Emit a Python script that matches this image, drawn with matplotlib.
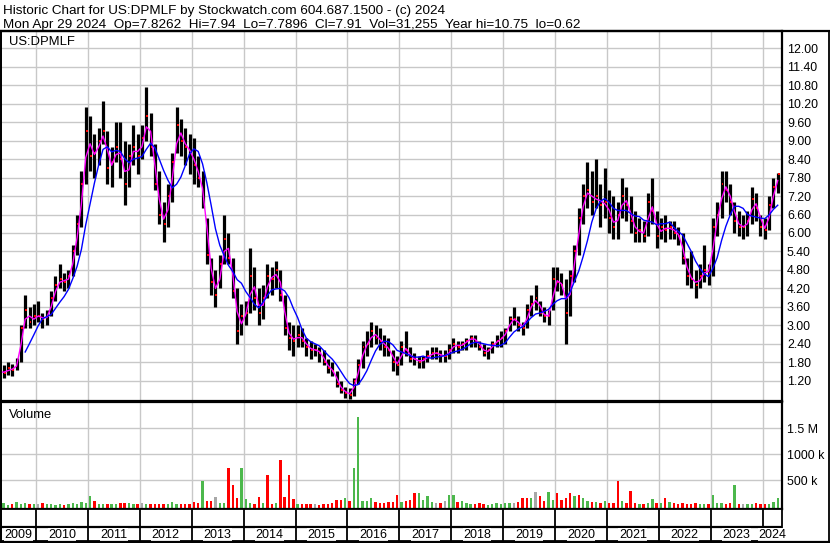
import numpy as np
import pandas as pd
import matplotlib
matplotlib.use("Agg")
import matplotlib.pyplot as plt
from matplotlib.lines import Line2D

plt.rcParams["font.family"] = ["Liberation Sans", "DejaVu Sans"]

W, H = 830, 543

# monthly bars, Apr 2009 .. Apr 2024
first_month = "2009-04"
last_month = "2024-04"

high = [
    1.75, 1.7, 1.8, 1.75, 1.95, 3.0, 4.0, 3.6, 3.7,                 # 2009 Apr-Dec
    3.8, 3.4, 3.5, 4.1, 4.6, 5.0, 4.7, 4.8, 5.6, 6.6, 8.0, 10.1,      # 2010
    9.8, 9.2, 9.4, 10.3, 9.3, 8.8, 9.6, 9.6, 9.0, 8.9, 9.5, 9.2,      # 2011
    9.5, 10.75, 9.9, 8.9, 8.0, 7.0, 7.6, 8.6, 10.1, 9.7, 9.4, 9.2,    # 2012
    9.1, 8.5, 8.0, 6.5, 5.2, 4.8, 5.3, 6.6, 6.0, 5.2, 4.2, 3.7,       # 2013
    3.8, 5.5, 4.9, 4.2, 4.3, 5.0, 4.9, 5.1, 4.8, 4.0, 3.1, 3.0,       # 2014
    3.0, 2.9, 2.6, 2.5, 2.4, 2.3, 2.2, 1.9, 1.8, 1.5, 1.2, 1.0,       # 2015
    0.95, 1.3, 1.9, 2.5, 2.8, 3.1, 3.0, 2.9, 2.7, 2.6, 2.2, 2.0,      # 2016
    2.5, 2.8, 2.3, 2.1, 2.0, 2.0, 2.2, 2.3, 2.3, 2.2, 2.2, 2.4,       # 2017
    2.6, 2.5, 2.5, 2.6, 2.7, 2.7, 2.5, 2.4, 2.3, 2.5, 2.7, 2.8,       # 2018
    2.9, 3.3, 3.6, 3.3, 3.1, 3.7, 4.0, 4.3, 3.8, 3.6, 3.5, 4.9,       # 2019
    4.9, 4.7, 4.5, 4.8, 5.6, 6.8, 7.6, 8.3, 8.0, 8.4, 7.6, 8.1,       # 2020
    7.4, 7.2, 7.0, 7.8, 7.5, 7.2, 6.7, 6.5, 6.4, 7.3, 7.8, 6.7,       # 2021
    6.5, 6.6, 6.4, 6.4, 6.2, 6.0, 5.2, 5.4, 4.8, 5.0, 5.6, 5.0,       # 2022
    6.5, 7.0, 8.0, 8.0, 7.6, 7.0, 6.7, 6.6, 6.7, 7.5, 7.3, 6.6,       # 2023
    6.5, 7.2, 7.8, 7.94,                                              # 2024
]
low = [
    1.35, 1.3, 1.4, 1.35, 1.55, 1.8, 2.9, 2.9, 3.0,
    3.1, 2.9, 3.0, 3.3, 3.8, 4.2, 4.1, 4.2, 4.6, 5.3, 6.2, 7.6,
    8.0, 7.8, 8.2, 8.9, 7.6, 7.5, 8.3, 7.8, 6.9, 7.5, 8.2, 7.9,
    8.4, 9.0, 8.5, 7.4, 6.3, 5.7, 6.2, 7.0, 8.6, 8.5, 8.2, 7.9,
    7.6, 7.5, 6.8, 5.0, 4.0, 3.6, 4.2, 5.0, 5.0, 3.9, 2.4, 2.7,
    3.0, 3.4, 3.5, 3.0, 3.2, 3.9, 4.0, 4.2, 3.8, 2.7, 2.2, 2.0,
    2.3, 2.3, 2.0, 1.9, 2.0, 1.8, 1.7, 1.45, 1.35, 1.0, 0.8, 0.65,
    0.62, 0.7, 1.1, 1.6, 2.0, 2.3, 2.4, 2.2, 2.0, 2.0, 1.5, 1.4,
    1.7, 2.0, 1.8, 1.7, 1.6, 1.6, 1.8, 1.9, 1.9, 1.8, 1.8, 1.9,
    2.1, 2.1, 2.2, 2.2, 2.3, 2.3, 2.2, 2.0, 1.9, 2.1, 2.3, 2.3,
    2.4, 2.8, 3.0, 2.8, 2.7, 2.9, 3.3, 3.5, 3.3, 3.1, 3.0, 3.5,
    4.1, 4.0, 2.4, 3.3, 4.4, 5.3, 6.3, 6.8, 6.6, 6.8, 6.2, 6.5,
    6.0, 5.8, 5.8, 6.5, 6.4, 6.0, 5.7, 5.7, 5.7, 5.9, 6.3, 5.5,
    5.8, 5.7, 5.8, 5.8, 5.6, 5.0, 4.3, 4.2, 3.9, 4.2, 4.4, 4.3,
    4.6, 5.9, 6.5, 7.0, 6.6, 6.0, 5.9, 5.8, 5.9, 6.3, 6.4, 5.9,
    5.8, 6.1, 6.8, 7.3,
]
close = [
    1.5, 1.45, 1.6, 1.55, 1.8, 2.9, 3.5, 3.1, 3.3,
    3.3, 3.2, 3.3, 3.9, 4.3, 4.5, 4.4, 4.6, 5.4, 6.3, 7.6, 9.3,
    8.5, 8.6, 9.0, 9.3, 8.1, 8.3, 8.8, 8.4, 7.6, 8.5, 8.8, 8.5,
    9.1, 9.8, 8.8, 7.6, 6.6, 6.3, 7.2, 8.3, 9.5, 9.0, 8.8, 8.6,
    8.2, 7.8, 7.1, 5.3, 4.4, 4.0, 5.0, 5.8, 5.2, 4.1, 2.8, 3.3,
    3.4, 4.6, 3.9, 3.4, 3.9, 4.6, 4.5, 4.8, 4.0, 2.9, 2.6, 2.5,
    2.7, 2.5, 2.3, 2.2, 2.2, 2.1, 1.8, 1.6, 1.5, 1.1, 0.9, 0.8,
    0.75, 1.2, 1.7, 2.3, 2.4, 2.8, 2.6, 2.5, 2.3, 2.2, 1.8, 1.7,
    2.3, 2.2, 1.9, 1.9, 1.8, 1.9, 2.0, 2.1, 2.1, 2.0, 2.0, 2.2,
    2.4, 2.3, 2.4, 2.5, 2.6, 2.5, 2.3, 2.1, 2.2, 2.4, 2.5, 2.6,
    2.8, 3.2, 3.2, 3.0, 2.9, 3.5, 3.7, 3.9, 3.4, 3.3, 3.3, 4.5,
    4.4, 4.3, 3.4, 4.6, 5.4, 6.5, 7.2, 7.4, 7.0, 7.2, 6.9, 7.0,
    6.5, 6.2, 6.6, 7.2, 6.9, 6.4, 6.0, 6.1, 5.9, 7.0, 6.7, 5.9,
    6.2, 6.1, 6.2, 6.0, 5.9, 5.2, 4.6, 4.5, 4.3, 4.6, 4.8, 4.7,
    6.2, 6.6, 7.6, 7.4, 7.0, 6.4, 6.2, 6.2, 6.4, 7.1, 6.8, 6.2,
    6.1, 6.9, 7.5, 7.91,
]
volume_k = [
    40, 60, 30, 35, 80, 45, 70, 35, 40,
    45, 55, 40, 35, 30, 45, 30, 40, 60, 50, 75, 60,
    200, 95, 45, 50, 40, 35, 40, 60, 55, 65, 40, 35,
    55, 40, 35, 40, 45, 40, 35, 85, 45, 40, 35, 40,
    80, 60, 490, 100, 110, 185, 60, 70, 730, 410, 160, 730,
    140, 60, 50, 175, 60, 600, 50, 70, 890, 175, 600, 140,
    50, 40, 35, 40, 35, 30, 40, 45, 60, 120, 120, 150,
    100, 730, 1720, 100, 110, 150, 90, 70, 60, 80, 90, 210,
    80, 100, 120, 262, 250, 120, 200, 80, 60, 70, 100, 210,
    210, 80, 100, 60, 50, 40, 70, 40, 30, 50, 60, 50,
    60, 70, 60, 80, 155, 155, 150, 270, 190, 100, 275, 120,
    250, 120, 150, 250, 200, 210, 150, 100, 80, 90, 70, 100,
    60, 70, 487, 100, 60, 300, 60, 50, 40, 70, 140, 60,
    60, 165, 90, 60, 50, 60, 40, 50, 60, 50, 40, 50,
    215, 60, 60, 50, 60, 410, 50, 40, 50, 50, 60, 50,
    40, 50, 80, 150,
]
# colours of the volume bars where they differ from the monthly close direction
vol_colour_fix = {
    "2009-05": "g", "2009-08": "g", "2011-01": "g", "2011-02": "r",
    "2012-01": "n", "2012-08": "g", "2013-03": "g", "2013-06": "n",
    "2013-09": "r", "2013-10": "r", "2013-11": "r", "2013-12": "g",
    "2014-01": "g", "2014-04": "r", "2014-06": "r", "2014-09": "r",
    "2014-10": "r", "2014-11": "r", "2014-12": "r", "2015-10": "r",
    "2015-11": "r", "2015-12": "g", "2016-02": "g", "2016-03": "g",
    "2016-04": "g", "2016-05": "g", "2016-06": "g", "2016-11": "r",
    "2016-12": "r", "2017-03": "r", "2017-04": "r", "2017-05": "g",
    "2017-07": "g", "2017-12": "g", "2018-01": "g", "2019-05": "r",
    "2019-06": "r", "2019-08": "n", "2019-09": "r", "2019-11": "g",
    "2020-01": "r", "2020-04": "r", "2020-05": "g", "2020-06": "r",
    "2021-03": "r", "2021-06": "r", "2021-11": "g", "2022-02": "r",
    "2023-01": "g", "2023-06": "g", "2024-04": "g",
}

price_ticks = np.round(np.arange(1.2, 12.01, 0.6), 2)
vol_ticks = [500000, 1000000, 1500000]
vol_tick_labels = ["500 k", "1000 k", "1.5 M"]
years = list(range(2010, 2025))
year_labels = list(range(2009, 2025))

months = pd.period_range(first_month, last_month, freq="M")
t = np.array([p.year + (p.month - 0.5) / 12 for p in months])
df = pd.DataFrame({"t": t, "high": high, "low": low, "close": close,
                   "vol": np.array(volume_k) * 1000.0}, index=months.astype(str))
ma_fast = df["close"].rolling(2, min_periods=1).mean()
ma_slow = df["close"].rolling(6).mean()

chg = df["close"].diff().fillna(0)
vcol = np.where(chg > 0, "g", np.where(chg < 0, "r", "n")).astype(object)
for k, v in vol_colour_fix.items():
    vcol[df.index.get_loc(k)] = v
cmap = {"g": "#4cb84c", "r": "#ff0000", "n": "#a8a8a8"}
vcol = [cmap[c] for c in vcol]

XMIN = 2010 + (1 - 36) / 51.9
XMAX = 2010 + (782 - 36) / 51.9
GRID = "#c8c8c8"
FS_HEAD = 9.7
FS_TICK = 8.9


def rect(l, top, r, b):
    return [l / W, 1 - b / H, (r - l) / W, (b - top) / H]


fig = plt.figure(figsize=(W / 100, H / 100), dpi=100)

# ---- price panel
ax = fig.add_axes(rect(1, 31, 782, 401))
ax.set_xlim(XMIN, XMAX)
ax.set_ylim(0.541, 12.562)
for yv in price_ticks:
    ax.axhline(yv, color=GRID, lw=1.0, zorder=0)
for yr in years:
    ax.axvline(yr, color=GRID, lw=1.0, zorder=0)
ax.vlines(df["t"], df["low"], df["high"], colors="black", lw=2.3, zorder=2)
ax.hlines(df["close"], df["t"], df["t"] + 0.45 / 12, colors="red", lw=1.4, zorder=3)
ax.plot(df["t"], ma_fast, color="#ff00ff", lw=1.0, zorder=4)
ax.plot(df["t"].iloc[6:], ma_slow.iloc[6:], color="#0000ff", lw=1.0, zorder=5)
ax.set_xticks([])
ax.yaxis.tick_right()
ax.set_yticks(price_ticks)
ax.set_yticklabels([f"{v:.2f}" for v in price_ticks], fontsize=FS_TICK)
ax.tick_params(axis="y", length=0, pad=3.6)
for s, lw in (("top", 1.6), ("right", 1.6), ("left", 1.3), ("bottom", 1.6)):
    ax.spines[s].set_linewidth(lw)
ax.text(8 / 781, 1 - 14 / 370, "US:DPMLF", transform=ax.transAxes,
        fontsize=9.4, va="baseline")

# ---- volume panel
av = fig.add_axes(rect(1, 402, 782, 509))
VBOT = -52000
av.set_xlim(XMIN, XMAX)
av.set_ylim(VBOT, 2006000)
for yv in vol_ticks:
    av.axhline(yv, color=GRID, lw=1.0, zorder=0)
for yr in years:
    av.axvline(yr, color=GRID, lw=1.0, zorder=0)
av.bar(df["t"], df["vol"] - VBOT, bottom=VBOT, width=0.55 / 12, color=vcol,
       linewidth=0, zorder=2)
av.set_xticks([])
av.yaxis.tick_right()
av.set_yticks(vol_ticks)
av.set_yticklabels(vol_tick_labels, fontsize=FS_TICK)
av.tick_params(axis="y", length=0, pad=3.6)
for s, lw in (("top", 1.6), ("right", 1.6), ("left", 1.3), ("bottom", 1.6)):
    av.spines[s].set_linewidth(lw)
av.text(8 / 781, 1 - 16 / 107, "Volume", transform=av.transAxes,
        fontsize=9.4, va="baseline")

# ---- year band
ab = fig.add_axes(rect(1, 509, 782, 541))
ab.set_xlim(XMIN, XMAX)
ab.set_ylim(0, 1)
ab.vlines(years, 0, 1, colors="black", lw=1.3)
ab.axhline(14 / 32, color="black", lw=1.6)
edges = [XMIN] + years + [XMAX]
for i, yl in enumerate(year_labels):
    ab.text((edges[i] + edges[i + 1]) / 2, 6.5 / 32, str(yl), ha="center",
            va="center", fontsize=9.0, clip_on=False,
            bbox=dict(facecolor="white", edgecolor="none", pad=0.3))
ab.set_xticks([])
ab.set_yticks([])
for s in ab.spines.values():
    s.set_linewidth(1.3)

# ---- outer frame and header
fig.add_artist(Line2D([0, 1], [1 - 30.5 / H] * 2, color="black", lw=1.6))
fig.add_artist(Line2D([0, 1], [1 - 541.5 / H] * 2, color="black", lw=1.6))
fig.add_artist(Line2D([829 / W] * 2, [0, 1 - 30.5 / H], color="black", lw=1.3))
fig.add_artist(Line2D([1 / W] * 2, [0, 1 - 30.5 / H], color="black", lw=1.3))

fig.text(3 / W, 1 - 14.3 / H,
         "Historic Chart for US:DPMLF by Stockwatch.com 604.687.1500 - (c) 2024",
         fontsize=FS_HEAD, va="baseline")
fig.text(3 / W, 1 - 27.7 / H,
         "Mon Apr 29 2024  Op=7.8262  Hi=7.94  Lo=7.7896  Cl=7.91  Vol=31,255  "
         "Year hi=10.75  lo=0.62",
         fontsize=FS_HEAD, va="baseline")

fig.savefig("out.png", dpi=100)
